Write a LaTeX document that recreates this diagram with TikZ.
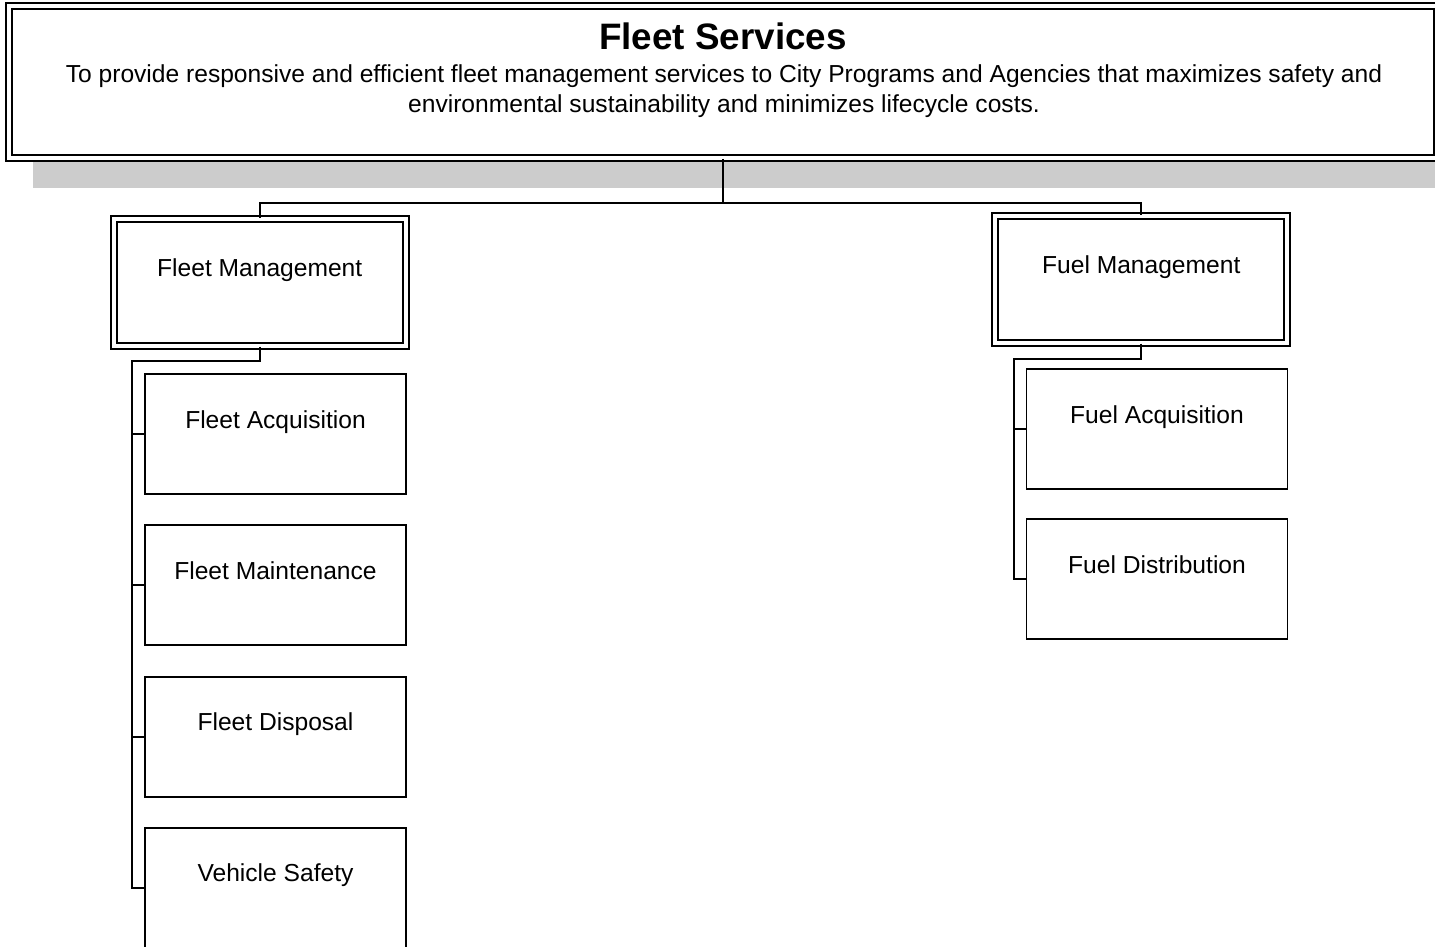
\documentclass[tikz,border=0pt]{standalone}
\usepackage{fontspec}
\setmainfont{Liberation Sans}
\usetikzlibrary{positioning, calc}
\definecolor{shadowgray}{HTML}{CCCCCC}
\tikzset{
  headbox/.style={
    draw, double, double distance=2pt, line width=1pt, fill=white,
    minimum width=714pt, minimum height=76pt, inner sep=0pt,
    text height=22pt, text depth=54pt,
    font=\fontsize{18.4}{22}\selectfont\bfseries
  },
  mission/.style={
    align=center, inner sep=0pt, anchor=north,
    font=\fontsize{12.3}{15}\selectfont
  },
  groupbox/.style={
    draw, double, double distance=2pt, line width=1pt,
    minimum width=146pt, minimum height=63.25pt, inner sep=0pt,
    text height=28.5pt, text depth=34.75pt,
    font=\fontsize{12.3}{15}\selectfont
  },
  unitbox/.style={
    draw, line width=0.9pt,
    minimum width=130.5pt, minimum height=60pt, inner sep=0pt,
    text height=27pt, text depth=33pt,
    font=\fontsize{12.3}{15}\selectfont
  },
  link/.style={line width=1pt}
}
\begin{document}
\begin{tikzpicture}[x=0.5pt, y=-0.5pt]
  \useasboundingbox (0,0) rectangle (1435,947);
  % header with its shadow
  \fill[shadowgray] (33,30) rectangle (1470,188);
  \node[headbox] (fleet-services) at (723,82) {Fleet Services};
  \node[mission] (fleet-mission) at (724,64) {To provide responsive and efficient fleet management services to City Programs and Agencies that maximizes safety and\\environmental sustainability and minimizes lifecycle costs.};
  % second level
  \node[groupbox] (fleet-mgmt) at (259.75,282.25) {Fleet Management};
  \node[groupbox] (fuel-mgmt) at (1141.25,279.25) {Fuel Management};
  % units
  \node[unitbox] (fleet-acq) at (275.5,434) {Fleet Acquisition};
  \node[unitbox, below=14.75pt of fleet-acq] (fleet-maint) {Fleet Maintenance};
  \node[unitbox, below=14.75pt of fleet-maint] (fleet-disp) {Fleet Disposal};
  \node[unitbox, below=14.75pt of fleet-disp] (vehicle-safety) {Vehicle Safety};
  \node[unitbox] (fuel-acq) at (1157,429) {Fuel Acquisition};
  \node[unitbox, below=14.25pt of fuel-acq] (fuel-dist) {Fuel Distribution};
  % connectors
  \coordinate (bus) at (723,203);
  \coordinate (fleet-spine) at (132,361);
  \coordinate (fuel-spine) at (1014,359);
  \draw[link] (fleet-services.south) -- (bus);
  \draw[link] (fleet-mgmt.north) |- (bus) -| (fuel-mgmt.north);
  \draw[link] (fleet-mgmt.south) |- (fleet-spine) -- (fleet-spine |- vehicle-safety.west) -- (vehicle-safety.west);
  \foreach \unit in {fleet-acq, fleet-maint, fleet-disp}
    \draw[link] (fleet-spine |- \unit.west) -- (\unit.west);
  \draw[link] (fuel-mgmt.south) |- (fuel-spine) -- (fuel-spine |- fuel-dist.west) -- (fuel-dist.west);
  \draw[link] (fuel-spine |- fuel-acq.west) -- (fuel-acq.west);
\end{tikzpicture}
\end{document}
